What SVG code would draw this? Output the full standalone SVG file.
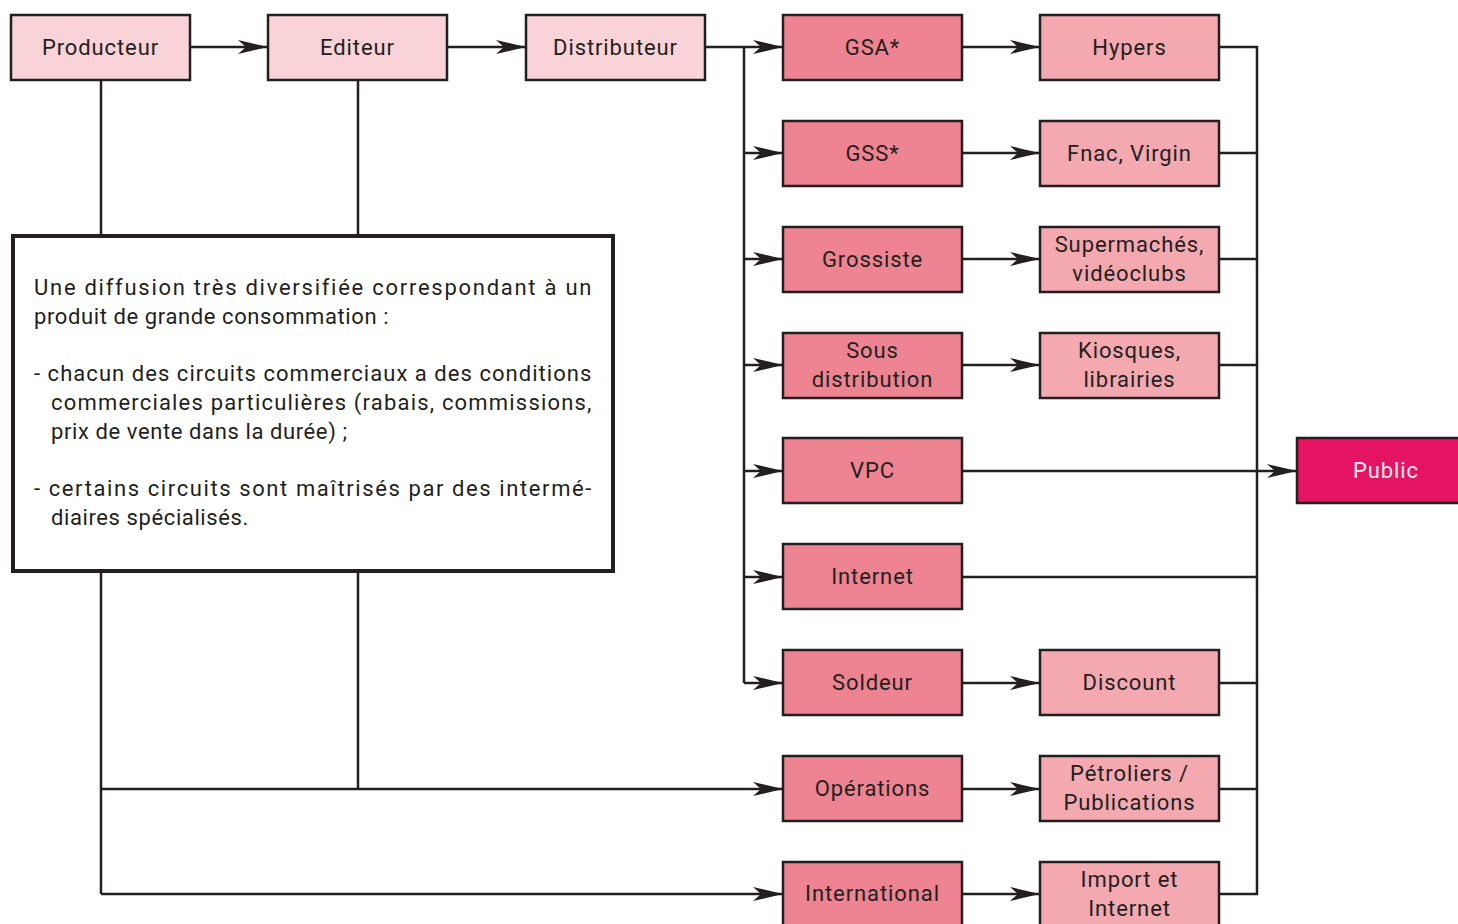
<svg xmlns="http://www.w3.org/2000/svg" width="1458" height="924" viewBox="0 0 1458 924">
<defs>
<style>
.n rect{stroke:#231f20;stroke-width:2.5}
.a rect{fill:#f9d3d8}
.b rect{fill:#ee8491}
.c rect{fill:#f4a8b0}
.n text{font-family:Roboto,"Liberation Sans",sans-serif;font-size:22px;fill:#231f20;text-anchor:middle;letter-spacing:0.9px}
#public rect{fill:#e41463}
#public text{fill:#fde6ee}
.w{fill:none;stroke:#231f20;stroke-width:2.5}
.arr{marker-end:url(#ah)}
.note text{font-family:Roboto,"Liberation Sans",sans-serif;font-size:22px;fill:#231f20;letter-spacing:0.6px}
</style>
<marker id="ah" markerWidth="30" markerHeight="14" viewBox="0 0 30 14" refX="30" refY="7" orient="auto" markerUnits="userSpaceOnUse">
<path d="M0,0 L30,7 L0,14 L8,7 Z" fill="#231f20"/>
</marker>
</defs>
<rect width="1458" height="924" fill="#fff"/>
<g id="connectors">
<path class="w arr" d="M190,47 H268"/>
<path class="w arr" d="M447,47 H526"/>
<path class="w arr" d="M705,47 H783"/>
<path class="w" d="M744,47 V683"/>
<path class="w arr" d="M744,153 H783"/>
<path class="w arr" d="M744,259 H783"/>
<path class="w arr" d="M744,365 H783"/>
<path class="w arr" d="M744,471 H783"/>
<path class="w arr" d="M744,577 H783"/>
<path class="w arr" d="M744,683 H783"/>
<path class="w arr" d="M962,47 H1040"/>
<path class="w arr" d="M962,153 H1040"/>
<path class="w arr" d="M962,259 H1040"/>
<path class="w arr" d="M962,365 H1040"/>
<path class="w arr" d="M962,683 H1040"/>
<path class="w arr" d="M962,789 H1040"/>
<path class="w arr" d="M962,894 H1040"/>
<path class="w arr" d="M962,471 H1297"/>
<path class="w" d="M962,577 H1257"/>
<path class="w" d="M1219,47 H1257 V894 H1219"/>
<path class="w" d="M1219,153 H1257 M1219,259 H1257 M1219,365 H1257 M1219,683 H1257 M1219,789 H1257"/>
<path class="w" d="M101,80 V235 M358,80 V235"/>
<path class="w" d="M101,571 V894 M358,571 V789"/>
<path class="w arr" d="M101,789 H783"/>
<path class="w arr" d="M101,894 H783"/>
</g>
<g id="producteur" class="n a"><rect x="11" y="15" width="179" height="65"/><text x="100.5" y="55">Producteur</text></g>
<g id="editeur" class="n a"><rect x="268" y="15" width="179" height="65"/><text x="357.5" y="55">Editeur</text></g>
<g id="distributeur" class="n a"><rect x="526" y="15" width="179" height="65"/><text x="615.5" y="55">Distributeur</text></g>
<g id="gsa" class="n b"><rect x="783" y="15" width="179" height="65"/><text x="872.5" y="55">GSA*</text></g>
<g id="gss" class="n b"><rect x="783" y="121" width="179" height="65"/><text x="872.5" y="161">GSS*</text></g>
<g id="grossiste" class="n b"><rect x="783" y="227" width="179" height="65"/><text x="872.5" y="267">Grossiste</text></g>
<g id="sous" class="n b"><rect x="783" y="333" width="179" height="65"/><text x="872.5" y="358">Sous</text><text x="872.5" y="387">distribution</text></g>
<g id="vpc" class="n b"><rect x="783" y="438" width="179" height="65"/><text x="872.5" y="478">VPC</text></g>
<g id="internet" class="n b"><rect x="783" y="544" width="179" height="65"/><text x="872.5" y="584">Internet</text></g>
<g id="soldeur" class="n b"><rect x="783" y="650" width="179" height="65"/><text x="872.5" y="690">Soldeur</text></g>
<g id="operations" class="n b"><rect x="783" y="756" width="179" height="65"/><text x="872.5" y="796">Opérations</text></g>
<g id="international" class="n b"><rect x="783" y="862" width="179" height="70"/><text x="872.5" y="901">International</text></g>
<g id="hypers" class="n c"><rect x="1040" y="15" width="179" height="65"/><text x="1129.5" y="55">Hypers</text></g>
<g id="fnac" class="n c"><rect x="1040" y="121" width="179" height="65"/><text x="1129.5" y="161">Fnac, Virgin</text></g>
<g id="supermarches" class="n c"><rect x="1040" y="227" width="179" height="65"/><text x="1129.5" y="252">Supermachés,</text><text x="1129.5" y="281">vidéoclubs</text></g>
<g id="kiosques" class="n c"><rect x="1040" y="333" width="179" height="65"/><text x="1129.5" y="358">Kiosques,</text><text x="1129.5" y="387">librairies</text></g>
<g id="discount" class="n c"><rect x="1040" y="650" width="179" height="65"/><text x="1129.5" y="690">Discount</text></g>
<g id="petroliers" class="n c"><rect x="1040" y="756" width="179" height="65"/><text x="1129.5" y="781">Pétroliers /</text><text x="1129.5" y="810">Publications</text></g>
<g id="import" class="n c"><rect x="1040" y="862" width="179" height="70"/><text x="1129.5" y="887">Import et</text><text x="1129.5" y="916">Internet</text></g>
<g id="public" class="n"><rect x="1297" y="438" width="170" height="65"/><text x="1386" y="478">Public</text></g>
<g id="note" class="note">
<rect x="13" y="236" width="600" height="335" fill="#fff" stroke="#231f20" stroke-width="4"/>
<text x="34" y="295" textLength="558" lengthAdjust="spacing">Une diffusion très diversifiée correspondant à un</text>
<text x="34" y="324">produit de grande consommation :</text>
<text x="34" y="381" textLength="558" lengthAdjust="spacing">- chacun des circuits commerciaux a des conditions</text>
<text x="51" y="410" textLength="541" lengthAdjust="spacing">commerciales particulières (rabais, commissions,</text>
<text x="51" y="439">prix de vente dans la durée) ;</text>
<text x="34" y="496" textLength="558" lengthAdjust="spacing">- certains circuits sont maîtrisés par des intermé-</text>
<text x="51" y="525">diaires spécialisés.</text>
</g>
</svg>
